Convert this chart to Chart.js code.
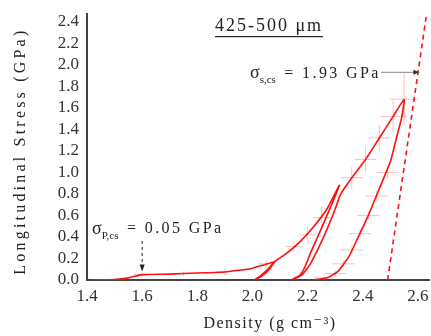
<!DOCTYPE html>
<html>
<head>
<meta charset="utf-8">
<script src="https://cdn.jsdelivr.net/npm/chart.js@4"></script>
<style>
  html, body { margin: 0; padding: 0; background: #fff; }
  #wrap { width: 431px; height: 336px; position: relative; }
</style>
</head>
<body>
<div id="wrap"><canvas id="stressChart"></canvas></div>
<script>
// Density vs longitudinal stress, 425-500 um powder, load/unload cycles

// measured cycle path (density g/cm3, stress GPa)
const cycleDensity = [1.42, 1.5, 1.55, 1.6, 1.7, 1.8, 1.9, 1.95, 2.0, 2.04, 2.08,
    2.07, 2.05, 2.03, 2.01,
    2.03, 2.06, 2.08, 2.12, 2.17, 2.22, 2.27, 2.315,
    2.30, 2.27, 2.24, 2.21, 2.19, 2.17, 2.14,
    2.18, 2.21, 2.24, 2.27, 2.30, 2.32, 2.36, 2.41, 2.46, 2.51, 2.55,
    2.54, 2.52, 2.50, 2.46, 2.42, 2.38, 2.35, 2.31, 2.27, 2.22];
const cycleStress = [0.0, 0.005, 0.02, 0.05, 0.055, 0.065, 0.075, 0.09, 0.11, 0.14, 0.17,
    0.13, 0.07, 0.03, 0.005,
    0.04, 0.11, 0.17, 0.24, 0.35, 0.49, 0.66, 0.88,
    0.78, 0.60, 0.42, 0.25, 0.12, 0.04, 0.0,
    0.05, 0.15, 0.30, 0.47, 0.66, 0.80, 0.95, 1.12, 1.32, 1.52, 1.68,
    1.50, 1.30, 1.10, 0.85, 0.60, 0.38, 0.22, 0.08, 0.02, 0.0];

// solid-compression reference line (dashed)
const solidDensity = [2.49, 2.634];
const solidStress = [0.0, 2.52];

// error crosses
const errDensity = [1.6, 1.75, 1.9, 2.05, 2.15, 2.2, 2.25, 2.36, 2.41, 2.46, 2.51, 2.55,
    2.49, 2.45, 2.42, 2.39, 2.36, 2.33, 2.30, 2.26];
const errStress = [0.05, 0.06, 0.08, 0.15, 0.31, 0.42, 0.58, 0.95, 1.12, 1.32, 1.52, 1.68,
    1.0, 0.78, 0.6, 0.43, 0.28, 0.15, 0.06, 0.02];
const errDx = [0.03, 0.03, 0.03, 0.03, 0.03, 0.03, 0.03, 0.04, 0.04, 0.04, 0.05, 0.05,
    0.04, 0.04, 0.04, 0.04, 0.04, 0.04, 0.04, 0.04];
const errDy = [0.02, 0.02, 0.03, 0.04, 0.05, 0.08, 0.1, 0.1, 0.12, 0.12, 0.15, 0.25,
    0.05, 0.05, 0.04, 0.04, 0.04, 0.03, 0.03, 0.02];

const sigmaS = 1.93;   // GPa
const sigmaP = 0.05;   // GPa

const xTicks = [1.4, 1.6, 1.8, 2.0, 2.2, 2.4, 2.6];
const yTicks = [0.0, 0.2, 0.4, 0.6, 0.8, 1.0, 1.2, 1.4, 1.6, 1.8, 2.0, 2.2, 2.4];

const SERIF = "'Liberation Serif', 'DejaVu Serif', serif";

function toPoints(xs, ys) {
    return xs.map((x, i) => ({ x: x, y: ys[i] }));
}

// pale error crosses drawn under the lines
const errorBars = {
    id: 'errorBars',
    beforeDatasetsDraw(chart) {
        const { ctx, scales: { x, y } } = chart;
        ctx.save();
        ctx.strokeStyle = 'rgba(255, 110, 110, 0.45)';
        ctx.lineWidth = 1;
        errDensity.forEach((d, i) => {
            const s = errStress[i];
            ctx.beginPath();
            ctx.moveTo(x.getPixelForValue(d - errDx[i]), y.getPixelForValue(s));
            ctx.lineTo(x.getPixelForValue(d + errDx[i]), y.getPixelForValue(s));
            ctx.moveTo(x.getPixelForValue(d), y.getPixelForValue(Math.max(0, s - errDy[i])));
            ctx.lineTo(x.getPixelForValue(d), y.getPixelForValue(s + errDy[i]));
            ctx.stroke();
        });
        ctx.restore();
    }
};

function spaced(ctx, px) {
    if ('letterSpacing' in ctx) ctx.letterSpacing = px + 'px';
}

// write a sigma label with subscript
function sigmaLabel(ctx, left, mid, sub, rest) {
    ctx.textBaseline = 'middle';
    ctx.textAlign = 'left';
    spaced(ctx, 0);
    ctx.font = '18px ' + SERIF;
    ctx.fillText('\u03c3', left, mid);
    let w = ctx.measureText('\u03c3').width;
    ctx.font = '11px ' + SERIF;
    ctx.fillText(sub, left + w, mid + 7);
    w += ctx.measureText(sub).width;
    spaced(ctx, 2.4);
    ctx.font = '16px ' + SERIF;
    ctx.fillText(rest, left + w + 2, mid);
    const end = left + w + 2 + ctx.measureText(rest).width;
    spaced(ctx, 0);
    return end;
}

const annotations = {
    id: 'annotations',
    afterDraw(chart) {
        const { ctx, chartArea, scales: { x, y } } = chart;
        ctx.save();
        ctx.fillStyle = '#222';

        // title, underlined
        ctx.font = '18px ' + SERIF;
        spaced(ctx, 2);
        ctx.textAlign = 'center';
        ctx.textBaseline = 'middle';
        const title = '425-500 \u03bcm';
        ctx.fillText(title, 269, 26);
        const tw = ctx.measureText(title).width;
        ctx.fillRect(269 - tw / 2, 36, tw, 1.2);

        // axis titles
        ctx.font = '16px ' + SERIF;
        spaced(ctx, 1.5);
        ctx.fillText('Density (g cm\u207b\u00b3)', 270, 324);
        ctx.save();
        ctx.translate(21, (chartArea.top + chartArea.bottom) / 2 + 4);
        ctx.rotate(-Math.PI / 2);
        spaced(ctx, 3.2);
        ctx.fillText('Longitudinal Stress (GPa)', 0, 0);
        ctx.restore();
        spaced(ctx, 0);

        // sigma_s,cs
        const ys = y.getPixelForValue(sigmaS);
        const textEnd = sigmaLabel(ctx, 250, ys + 1, 's,cs', ' = 1.93 GPa');
        ctx.strokeStyle = '#888';
        ctx.lineWidth = 1;
        ctx.beginPath();
        ctx.moveTo(textEnd, ys);
        ctx.lineTo(x.getPixelForValue(2.605), ys);
        ctx.stroke();
        const ax = x.getPixelForValue(2.605);
        ctx.fillStyle = '#333';
        ctx.beginPath();
        ctx.moveTo(ax, ys);
        ctx.lineTo(ax - 6, ys - 2.5);
        ctx.lineTo(ax - 6, ys + 2.5);
        ctx.fill();

        // sigma_P,cs
        ctx.fillStyle = '#222';
        sigmaLabel(ctx, 92, 229, 'P,cs', ' = 0.05 GPa');
        const px = x.getPixelForValue(1.6);
        const yTip = y.getPixelForValue(sigmaP + 0.03);
        ctx.strokeStyle = '#222';
        ctx.setLineDash([3, 3]);
        ctx.beginPath();
        ctx.moveTo(px, 241);
        ctx.lineTo(px, yTip - 4);
        ctx.stroke();
        ctx.setLineDash([]);
        ctx.beginPath();
        ctx.moveTo(px, yTip);
        ctx.lineTo(px - 2.5, yTip - 7);
        ctx.lineTo(px + 2.5, yTip - 7);
        ctx.fill();
        ctx.restore();
    }
};

const onlyTicks = (list) => (scale) => {
    scale.ticks = list.map(v => ({ value: v }));
};

new Chart(document.getElementById('stressChart'), {
    type: 'scatter',
    data: {
        datasets: [
            {
                data: toPoints(cycleDensity, cycleStress),
                showLine: true,
                borderColor: '#ff1010',
                borderWidth: 1.6,
                pointRadius: 0,
                tension: 0.15
            },
            {
                data: toPoints(solidDensity, solidStress),
                showLine: true,
                borderColor: '#ff1010',
                borderWidth: 1.6,
                borderDash: [5, 4],
                pointRadius: 0
            }
        ]
    },
    plugins: [errorBars, annotations],
    options: {
        responsive: true,
        maintainAspectRatio: false,
        animation: false,
        layout: { padding: { top: 12, right: 2, left: 0, bottom: 0 } },
        plugins: { legend: { display: false }, tooltip: { enabled: false } },
        scales: {
            x: {
                type: 'linear',
                min: 1.4,
                max: 2.64,
                afterBuildTicks: onlyTicks(xTicks),
                afterFit(scale) { scale.height = 56; },
                grid: { display: false, drawTicks: true, tickLength: 4, tickColor: '#333' },
                border: { display: true, color: '#444', width: 2 },
                ticks: {
                    color: '#333',
                    padding: 2,
                    autoSkip: false,
                    maxRotation: 0,
                    font: { family: SERIF, size: 17 },
                    callback: v => v.toFixed(1)
                }
            },
            y: {
                type: 'linear',
                min: 0,
                max: 2.47,
                afterBuildTicks: onlyTicks(yTicks),
                afterFit(scale) { scale.width = 87; },
                grid: { display: false, drawTicks: true, tickLength: 4, tickColor: '#333' },
                border: { display: true, color: '#444', width: 2 },
                ticks: {
                    color: '#333',
                    padding: 4,
                    autoSkip: false,
                    font: { family: SERIF, size: 17 },
                    callback: v => v.toFixed(1)
                }
            }
        }
    }
});
</script>
</body>
</html>
